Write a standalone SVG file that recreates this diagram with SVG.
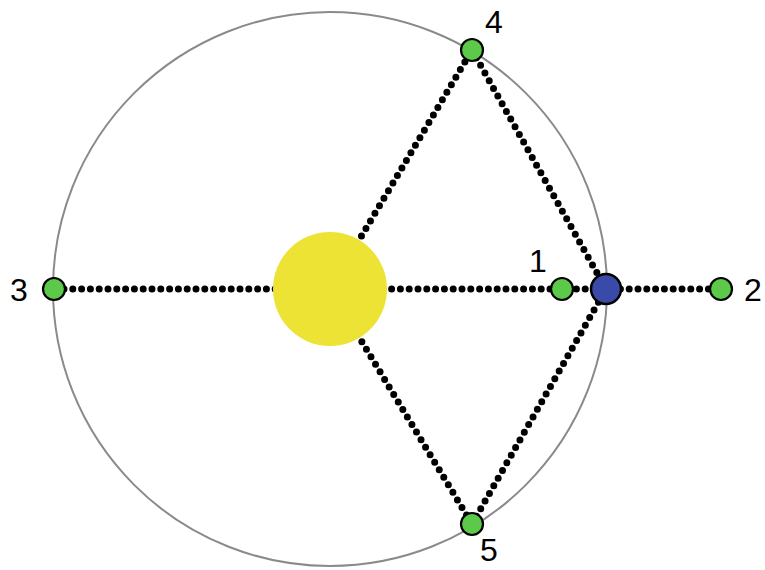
<svg xmlns="http://www.w3.org/2000/svg" width="765" height="570" viewBox="0 0 765 570">
<style>
.orbit{fill:none;stroke:#8a8a8a;stroke-width:2}
.dot{fill:none;stroke:#000;stroke-width:7;stroke-linecap:round;stroke-dasharray:0 8.8}
.g{fill:#5cc94a;stroke:#000;stroke-width:2.2}
.b{fill:#3a4aa8;stroke:#000;stroke-width:2.5}
.sun{fill:#ede334}
.lbl{font-family:"Liberation Sans",Arial,sans-serif;font-size:32px;fill:#000;dominant-baseline:central;text-anchor:middle}
</style>
<rect width="765" height="570" fill="#fff"/>
<circle class="orbit" cx="330" cy="289" r="277"/>
<g id="connectors">
<line class="dot" x1="64" y1="289" x2="330" y2="289"/>
<line class="dot" x1="330" y1="289" x2="721" y2="289"/>
<line class="dot" x1="330" y1="289" x2="472" y2="50"/>
<line class="dot" x1="330" y1="289" x2="472" y2="524"/>
<line class="dot" x1="472" y1="50" x2="606" y2="289"/>
<line class="dot" x1="472" y1="524" x2="606" y2="289"/>
</g>
<g id="sun"><circle class="sun" cx="330" cy="289" r="57"/></g>
<g id="n3"><circle class="g" cx="54" cy="289" r="11"/><text class="lbl" x="19" y="290">3</text></g>
<g id="n1"><circle class="g" cx="562" cy="289" r="11"/><text class="lbl" x="538" y="261">1</text></g>
<g id="nb"><circle class="b" cx="606" cy="289" r="15"/></g>
<g id="n2"><circle class="g" cx="721" cy="289" r="11"/><text class="lbl" x="753" y="290">2</text></g>
<g id="n4"><circle class="g" cx="472" cy="50" r="11"/><text class="lbl" x="494" y="22">4</text></g>
<g id="n5"><circle class="g" cx="472" cy="524" r="11"/><text class="lbl" x="489" y="550">5</text></g>
</svg>
